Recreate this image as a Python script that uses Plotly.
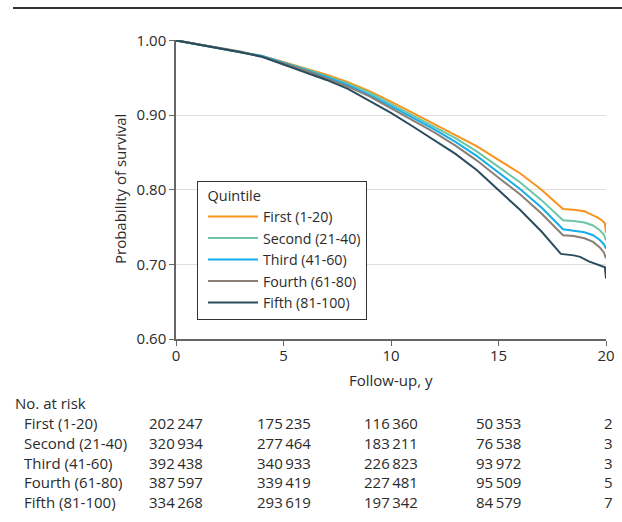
import plotly.graph_objects as go

# ---- data ----
years_first = [0, 1, 2, 3, 4, 5, 6, 7, 8, 9, 10, 11, 12, 13, 14, 15, 16, 17, 18, 18.5, 19, 19.3, 19.6, 19.8, 19.95, 20]
surv_first = [1.0, 0.995, 0.990, 0.985, 0.979, 0.971, 0.963, 0.954, 0.944, 0.932, 0.918, 0.903, 0.889, 0.874, 0.858, 0.840, 0.822, 0.800, 0.774, 0.773, 0.771, 0.767, 0.763, 0.759, 0.755, 0.742]

years_second = [0, 1, 2, 3, 4, 5, 6, 7, 8, 9, 10, 11, 12, 13, 14, 15, 16, 17, 18, 18.5, 19, 19.4, 19.7, 19.9, 20]
surv_second = [1.0, 0.995, 0.990, 0.985, 0.979, 0.970, 0.962, 0.952, 0.942, 0.930, 0.915, 0.900, 0.885, 0.869, 0.851, 0.830, 0.810, 0.786, 0.759, 0.758, 0.756, 0.752, 0.746, 0.740, 0.732]

years_third = [0, 1, 2, 3, 4, 5, 6, 7, 8, 9, 10, 11, 12, 13, 14, 15, 16, 17, 18, 18.5, 19, 19.4, 19.7, 19.9, 20]
surv_third = [1.0, 0.995, 0.990, 0.985, 0.979, 0.970, 0.961, 0.951, 0.940, 0.927, 0.912, 0.897, 0.881, 0.864, 0.845, 0.823, 0.801, 0.776, 0.747, 0.745, 0.743, 0.739, 0.733, 0.727, 0.721]

years_fourth = [0, 1, 2, 3, 4, 5, 6, 7, 8, 9, 10, 11, 12, 13, 14, 15, 16, 17, 18, 18.5, 19, 19.4, 19.7, 19.9, 20]
surv_fourth = [1.0, 0.995, 0.990, 0.985, 0.978, 0.969, 0.960, 0.949, 0.938, 0.925, 0.909, 0.893, 0.877, 0.859, 0.839, 0.816, 0.794, 0.768, 0.739, 0.738, 0.735, 0.730, 0.723, 0.716, 0.708]

years_fifth = [0, 1, 2, 3, 4, 5, 6, 7, 8, 9, 10, 11, 12, 13, 14, 15, 16, 17, 17.9, 18.5, 18.8, 19.2, 19.5, 19.75, 19.95, 20]
surv_fifth = [1.0, 0.995, 0.989, 0.984, 0.978, 0.968, 0.958, 0.947, 0.935, 0.919, 0.903, 0.885, 0.866, 0.848, 0.826, 0.800, 0.773, 0.744, 0.714, 0.712, 0.710, 0.704, 0.701, 0.699, 0.696, 0.681]

series_names = ["First (1-20)", "Second (21-40)", "Third (41-60)", "Fourth (61-80)", "Fifth (81-100)"]
series_colors = ["#F7941D", "#6CC5A5", "#14AEEA", "#8B7E74", "#2A4D5E"]

risk_times = [0, 5, 10, 15, 20]
risk_first = ["202\u2009247", "175\u2009235", "116\u2009360", "50\u2009353", "2"]
risk_second = ["320\u2009934", "277\u2009464", "183\u2009211", "76\u2009538", "3"]
risk_third = ["392\u2009438", "340\u2009933", "226\u2009823", "93\u2009972", "3"]
risk_fourth = ["387\u2009597", "339\u2009419", "227\u2009481", "95\u2009509", "5"]
risk_fifth = ["334\u2009268", "293\u2009619", "197\u2009342", "84\u2009579", "7"]

x_ticks = [0, 5, 10, 15, 20]
y_ticks = [0.6, 0.7, 0.8, 0.9, 1.0]
y_ticklabels = ["0.60", "0.70", "0.80", "0.90", "1.00"]

# ---- figure ----
FONT = "Open Sans"
FS = 15
TXT = "#2b2b2b"
W, H = 622, 522
ML, MR, MT, MB = 176, 16, 40, 183
PW = W - ML - MR
PH = H - MT - MB


def py_to_paper(py):
    return (H - MB - py) / PH


def px_to_paper(px):
    return (px - ML) / PW


fig = go.Figure()
xs = [years_first, years_second, years_third, years_fourth, years_fifth]
ys = [surv_first, surv_second, surv_third, surv_fourth, surv_fifth]
for name, color, xv, yv in zip(series_names, series_colors, xs, ys):
    fig.add_trace(go.Scatter(x=xv, y=yv, mode="lines", name=name,
                             line=dict(color=color, width=2)))

fig.update_layout(
    width=W, height=H,
    margin=dict(l=ML, r=MR, t=MT, b=MB, autoexpand=False),
    paper_bgcolor="white", plot_bgcolor="white",
    font=dict(family=FONT, size=FS, color=TXT),
    showlegend=True,
    legend=dict(
        title=dict(text="\u00a0\u00a0Quintile", font=dict(size=14.5, family=FONT, color=TXT)),
        x=px_to_paper(197), y=py_to_paper(181),
        xanchor="left", yanchor="top",
        bordercolor="#333333", borderwidth=1, bgcolor="white",
        font=dict(size=14.2, family=FONT, color=TXT),
        itemwidth=50, tracegroupgap=0, indentation=5,
    ),
)

fig.update_xaxes(
    range=[0, 20], tickvals=x_ticks, ticktext=[str(v) for v in x_ticks],
    showgrid=False, zeroline=False, showline=True, linecolor="#666666", linewidth=1.5,
    ticks="outside", ticklen=5, tickcolor="#666666", tickwidth=1.2,
    tickfont=dict(size=FS, family=FONT, color=TXT), ticklabelstandoff=-3,
)
fig.update_yaxes(
    range=[0.6, 1.0005], tickvals=y_ticks, ticktext=y_ticklabels,
    showgrid=True, gridcolor="#dedede", gridwidth=1.2, zeroline=False,
    showline=True, linecolor="#666666", linewidth=1.5,
    ticks="outside", ticklen=5, tickcolor="#666666", tickwidth=1.2,
    tickfont=dict(size=FS, family=FONT, color=TXT),
)

annotations = []
annotations.append(dict(text="Follow-up, y", xref="x", yref="paper", x=10, y=py_to_paper(380),
                        showarrow=False, xanchor="center", yanchor="middle",
                        font=dict(size=FS, family=FONT, color=TXT)))
annotations.append(dict(text="Probability of survival", xref="paper", yref="paper",
                        x=px_to_paper(120), y=py_to_paper(189), textangle=-90,
                        showarrow=False, xanchor="center", yanchor="middle",
                        font=dict(size=FS, family=FONT, color=TXT)))
annotations.append(dict(text="No. at risk", xref="paper", yref="paper",
                        x=px_to_paper(13), y=py_to_paper(403),
                        showarrow=False, xanchor="left", yanchor="middle",
                        font=dict(size=FS, family=FONT, color=TXT)))
rows = [risk_first, risk_second, risk_third, risk_fourth, risk_fifth]
row_py = [423, 443, 462.5, 482, 501.5]
for name, vals, py in zip(series_names, rows, row_py):
    annotations.append(dict(text=name, xref="paper", yref="paper",
                            x=px_to_paper(22), y=py_to_paper(py),
                            showarrow=False, xanchor="left", yanchor="middle",
                            font=dict(size=FS, family=FONT, color=TXT)))
    for t, v in zip(risk_times, vals):
        annotations.append(dict(text=v, xref="x", yref="paper",
                                x=t, xshift=2 if t == 20 else 0, y=py_to_paper(py),
                                showarrow=False, xanchor="center", yanchor="middle",
                                font=dict(size=FS, family=FONT, color=TXT)))
fig.update_layout(annotations=annotations)

fig.add_shape(type="line", xref="paper", yref="paper",
              x0=px_to_paper(13), x1=px_to_paper(W),
              y0=py_to_paper(8), y1=py_to_paper(8),
              line=dict(color="#333333", width=2))

fig.write_html("out.html", config={"displayModeBar": False},
               post_script="document.body.style.margin='0';")
